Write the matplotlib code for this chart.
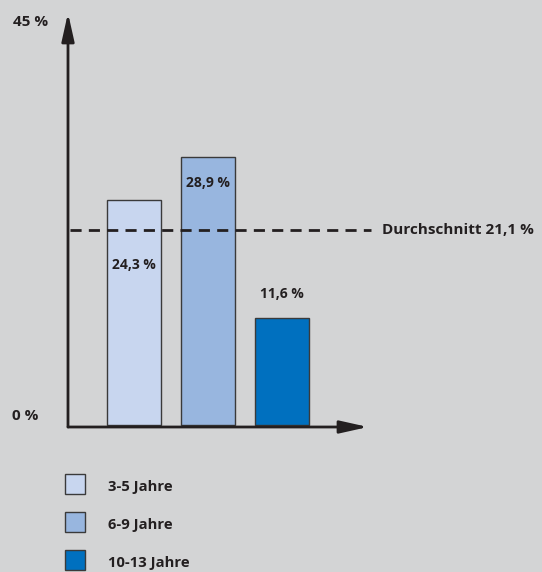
import matplotlib
matplotlib.use("Agg")
from matplotlib import pyplot as plt
from matplotlib.patches import Rectangle

# data
groups = ["3-5 Jahre", "6-9 Jahre", "10-13 Jahre"]
values = [24.3, 28.9, 11.6]
labels = ["24,3 %", "28,9 %", "11,6 %"]
colors = ["#c8d6ef", "#98b6df", "#0070bf"]
average = 21.1
avg_label = "Durchschnitt 21,1 %"

bg = "#d3d4d5"
ink = "#231f20"
W, H = 542, 572

plt.rcParams['font.family'] = ['Open Sans', 'DejaVu Sans']

fig = plt.figure(figsize=(W / 100, H / 100), dpi=100, facecolor=bg)

# axes box in pixels: x 68..368, y 13..427
ax = fig.add_axes([68 / W, 1 - 427 / H, (368 - 68) / W, (427 - 13) / H])
ax.set_facecolor(bg)
ax.set_xlim(-0.89, 3.16)
ax.set_ylim(-0.22, 44.5)
for s in ax.spines.values():
  s.set_visible(False)
ax.set_xticks([]), ax.set_yticks([])

x = range(len(values))
ax.bar(x, values, width=0.73, color=colors, edgecolor="#3a3a3a", linewidth=1.0, zorder=2)

# axes with arrows
arrow = dict(arrowstyle="-|>,head_length=1.7,head_width=0.38", color=ink, lw=2,
             shrinkA=0, shrinkB=0, mutation_scale=10)
ax.annotate("", xy=(0, 1.0), xytext=(0, 0), xycoords="axes fraction", arrowprops=arrow, zorder=3)
ax.annotate("", xy=(1.0, 0), xytext=(0, 0), xycoords="axes fraction", arrowprops=arrow, zorder=3)

# average line
ax.plot([-0.86, 3.2], [average, average], color=ink, lw=2, ls=(0, (4, 2.6)), clip_on=False, zorder=4)
ax.text(3.35, average, avg_label, ha="left", va="center", fontsize=11, fontweight="bold", color=ink)

# value labels
label_y = [17.3, 26.1, 14.2]
for i, (lab, ly) in enumerate(zip(labels, label_y)):
  ax.text(i, ly, lab, ha="center", va="center", fontsize=10, fontweight="bold", color=ink, zorder=5)

fig.text(13 / W, 1 - 22 / H, "45 %", ha="left", va="center", fontsize=11, fontweight="bold", color=ink)
fig.text(12 / W, 1 - 416 / H, "0 %", ha="left", va="center", fontsize=11, fontweight="bold", color=ink)

# legend
for i, (g, c) in enumerate(zip(groups, colors)):
  yc = 484 + i * 38
  fig.patches.append(Rectangle((65 / W, 1 - (yc + 10) / H), 20 / W, 20 / H, transform=fig.transFigure,
                               facecolor=c, edgecolor="#3a3a3a", lw=1.0))
  fig.text(108 / W, 1 - (yc + 3) / H, g, ha="left", va="center", fontsize=10.6, fontweight="bold", color=ink)

plt.savefig("out.png", dpi=100, facecolor=bg)
